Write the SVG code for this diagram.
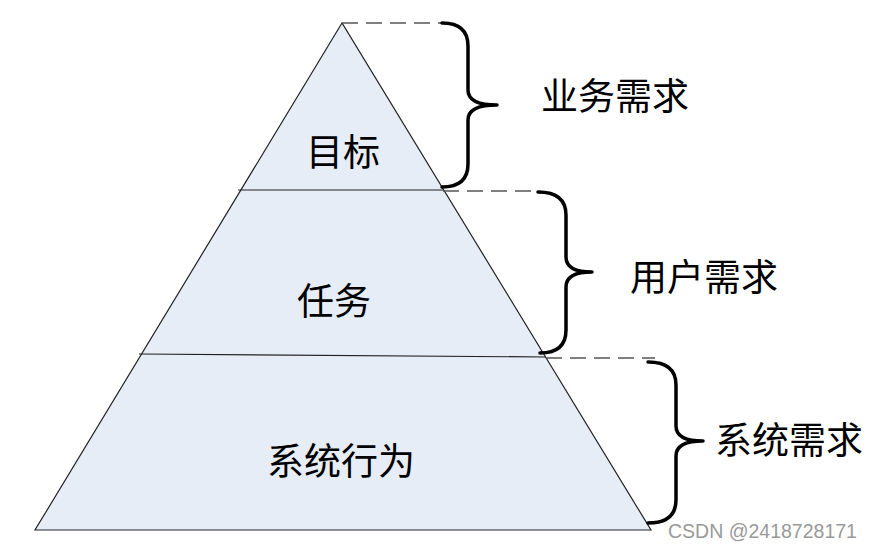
<svg xmlns="http://www.w3.org/2000/svg" width="874" height="549" viewBox="0 0 874 549">
<style>
.lbl{font-family:"Noto Sans CJK SC","Noto Sans",sans-serif;font-size:37px;fill:#000;text-anchor:middle}
.edge{fill:none;stroke:#222;stroke-width:1.2}
.dash{fill:none;stroke:#555;stroke-width:1.3;stroke-dasharray:16,8}
.brace{fill:none;stroke:#000;stroke-width:3.5;stroke-linecap:round;stroke-linejoin:round}
</style>
<rect width="874" height="549" fill="#fff"/>
<g id="pyramid">
<polygon points="342,23 35,530 651,530" fill="#E7EDF7" stroke="#222" stroke-width="1.2"/>
</g>
<g id="connectors">
<line class="edge" x1="238" y1="190" x2="443" y2="190" stroke="#444"/>
<line class="edge" x1="139" y1="354" x2="546" y2="357" stroke="#444"/>
<line class="dash" x1="342" y1="23" x2="442" y2="23"/>
<line class="dash" x1="443" y1="191" x2="538" y2="191"/>
<line class="dash" x1="546" y1="358" x2="655" y2="358"/>
<path class="brace" d="M442,23 Q468,23 468,46 L468,90 Q468,105 497,105 Q468,105 468,120 L468,164 Q468,187 442,187"/>
<path class="brace" d="M538,192 Q566,192 566,215 L566,257 Q566,272 592,272 Q566,272 566,287 L566,330 Q566,353 540,353"/>
<path class="brace" d="M648,362 Q676,362 676,385 L676,426 Q676,441 703,441 Q676,441 676,456 L676,500 Q676,523 648,523"/>
</g>
<g id="node-goal"><text class="lbl" x="343" y="166">目标</text></g>
<g id="node-task"><text class="lbl" x="334" y="315">任务</text></g>
<g id="node-behavior"><text class="lbl" x="341" y="475">系统行为</text></g>
<g id="node-business"><text class="lbl" x="615" y="110">业务需求</text></g>
<g id="node-user"><text class="lbl" x="704" y="291">用户需求</text></g>
<g id="node-system"><text class="lbl" x="789" y="454">系统需求</text></g>
<text x="668" y="538" font-family="Liberation Sans, Arial, sans-serif" font-size="19.5" fill="#999">CSDN @2418728171</text>
</svg>
